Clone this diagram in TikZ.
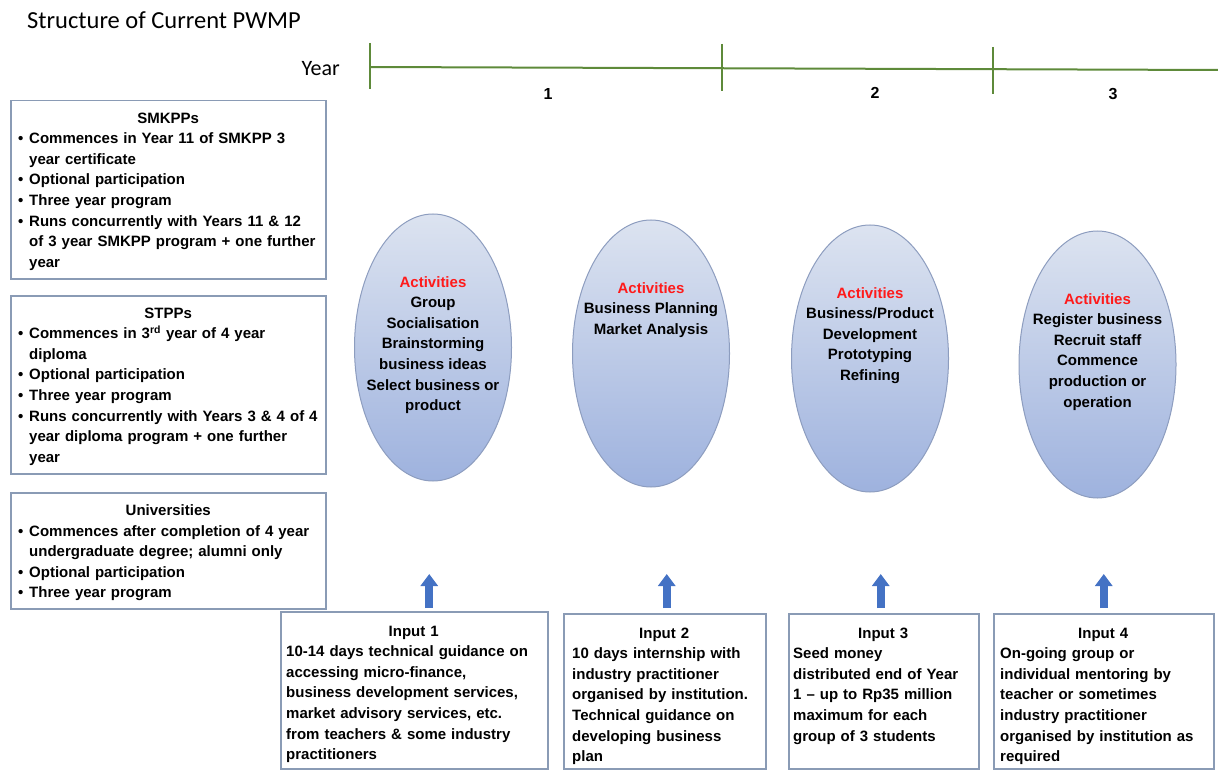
\documentclass[tikz,border=0pt]{standalone}
\usepackage{fontspec}
\setmainfont{Liberation Sans}
\newfontfamily\calibri{Carlito}
\usetikzlibrary{shapes.geometric, arrows.meta, positioning, calc}

\definecolor{boxline}{HTML}{8A9BB5}
\definecolor{timeline}{HTML}{5E8A3A}
\definecolor{ovaltop}{HTML}{DCE3F0}
\definecolor{ovalbot}{HTML}{9EB2DE}
\definecolor{ovalline}{HTML}{8D9DBF}
\definecolor{inarrow}{HTML}{4472C4}
\definecolor{actred}{HTML}{FF1A1A}

\newcommand{\bul}{\makebox[11pt][l]{\textbullet}}
\newcommand{\cnt}{\hspace*{11pt}}

\begin{document}
\begin{tikzpicture}[x=1pt, y=1pt,
        txt/.style={font=\fontsize{15}{20.6}\selectfont\bfseries},
        panel/.style={rectangle, draw=boxline, line width=1.5pt, anchor=north west, inner sep=0pt},
        paneltext/.style={txt, anchor=north west, align=left, inner sep=0pt},
        oval/.style={ellipse, draw=ovalline, line width=1pt, top color=ovaltop, bottom color=ovalbot, minimum width=157pt, minimum height=267pt, inner sep=0pt},
        ovaltext/.style={txt, align=center, anchor=north, inner sep=0pt},
        uparrow/.style={draw=inarrow, line width=8pt, -{Triangle[width=17pt, length=12pt]}},
        yeartick/.style={draw=timeline, line width=1.5pt}]

      \useasboundingbox (0,0) rectangle (1218,-770);

      % 1. Title and year line
      \node[font=\calibri\fontsize{24.5}{28}\selectfont, anchor=west, inner sep=0pt] (title) at (27,-20) {Structure of Current PWMP};
      \node[font=\calibri\fontsize{22}{26}\selectfont, anchor=east, inner sep=0pt] (year) at (340,-69) {Year};

      \coordinate (t0) at (370,-67);
      \coordinate (t1) at (722,-68);
      \coordinate (t2) at (993,-69);
      \coordinate (tend) at (1218,-70);
      \draw[draw=timeline, line width=2pt] (t0) -- (tend);
      \draw[yeartick] ([yshift=24pt]t0) -- ([yshift=-22pt]t0);
      \draw[yeartick] ([yshift=24pt]t1) -- ([yshift=-23pt]t1);
      \draw[yeartick] ([yshift=22pt]t2) -- ([yshift=-25pt]t2);

      \node[txt, font=\fontsize{16}{18}\selectfont\bfseries] (yr1) at (548,-94) {1};
      \node[txt, font=\fontsize{16}{18}\selectfont\bfseries] (yr2) at (875,-93) {2};
      \node[txt, font=\fontsize{16}{18}\selectfont\bfseries] (yr3) at (1113,-94) {3};

      % 2. Institution boxes (left)
      \node[panel, minimum width=315pt, minimum height=178pt] (smk) at (10,-100) {};
      \node[paneltext, text width=300pt] (smktxt) at ([xshift=8pt, yshift=-12.5pt]smk.north west)
        {\makebox[\linewidth]{SMKPPs}\\
         \bul Commences in Year 11 of SMKPP 3\\
         \cnt year certificate\\
         \bul Optional participation\\
         \bul Three year program\\
         \bul Runs concurrently with Years 11 \& 12\\
         \cnt of 3 year SMKPP program + one further\\
         \cnt year};

      \node[panel, minimum width=315pt, minimum height=178pt] (stp) at (10,-295) {};
      \node[paneltext, text width=300pt] (stptxt) at ([xshift=8pt, yshift=-12.5pt]stp.north west)
        {\makebox[\linewidth]{STPPs}\\
         \bul Commences in 3\textsuperscript{rd} year of 4 year\\
         \cnt diploma\\
         \bul Optional participation\\
         \bul Three year program\\
         \bul Runs concurrently with Years 3 \& 4 of 4\\
         \cnt year diploma program + one further\\
         \cnt year};

      \node[panel, minimum width=315pt, minimum height=116pt] (uni) at (10,-492) {};
      \node[paneltext, text width=300pt] (unitxt) at ([xshift=8pt, yshift=-12.5pt]uni.north west)
        {\makebox[\linewidth]{Universities}\\
         \bul Commences after completion of 4 year\\
         \cnt undergraduate degree; alumni only\\
         \bul Optional participation\\
         \bul Three year program};

      % 3. Activities (ovals)
      \node[oval] (act1) at (433,-347.5) {};
      \node[oval] (act2) at (651,-353.5) {};
      \node[oval] (act3) at (870,-358.5) {};
      \node[oval] (act4) at (1097.5,-364.5) {};

      \node[ovaltext] (act1txt) at ([yshift=-62.5pt]act1.north)
        {\textcolor{actred}{Activities}\\Group\\Socialisation\\Brainstorming\\business ideas\\Select business or\\product};
      \node[ovaltext] (act2txt) at ([yshift=-62.5pt]act2.north)
        {\textcolor{actred}{Activities}\\Business Planning\\Market Analysis};
      \node[ovaltext] (act3txt) at ([yshift=-62.5pt]act3.north)
        {\textcolor{actred}{Activities}\\Business/Product\\Development\\Prototyping\\Refining};
      \node[ovaltext] (act4txt) at ([yshift=-62.5pt]act4.north)
        {\textcolor{actred}{Activities}\\Register business\\Recruit staff\\Commence\\production or\\operation};

      % 4. Input boxes (bottom)
      \node[panel, minimum width=267pt, minimum height=157pt] (in1) at (280,-611) {};
      \node[paneltext, text width=255pt] (in1txt) at ([xshift=6pt, yshift=-14.5pt]in1.north west)
        {\makebox[\linewidth]{Input 1}\\
         10-14 days technical guidance on\\
         accessing micro-finance,\\
         business development services,\\
         market advisory services, etc.\\
         from teachers \& some industry\\
         practitioners};

      \node[panel, minimum width=202pt, minimum height=155pt] (in2) at (563,-613) {};
      \node[paneltext, text width=184pt] (in2txt) at ([xshift=9pt, yshift=-14.5pt]in2.north west)
        {\makebox[\linewidth]{Input 2}\\
         10 days internship with\\
         industry practitioner\\
         organised by institution.\\
         Technical guidance on\\
         developing business\\
         plan};

      \node[panel, minimum width=190pt, minimum height=155pt] (in3) at (788,-613) {};
      \node[paneltext, text width=180pt] (in3txt) at ([xshift=5pt, yshift=-14.5pt]in3.north west)
        {\makebox[\linewidth]{Input 3}\\
         Seed money\\
         distributed end of Year\\
         1 -- up to Rp35 million\\
         maximum for each\\
         group of 3 students};

      \node[panel, minimum width=220pt, minimum height=155pt] (in4) at (993,-613) {};
      \node[paneltext, text width=206pt] (in4txt) at ([xshift=7pt, yshift=-14.5pt]in4.north west)
        {\makebox[\linewidth]{Input 4}\\
         On-going group or\\
         individual mentoring by\\
         teacher or sometimes\\
         industry practitioner\\
         organised by institution as\\
         required};

      % 5. Arrows from inputs
      \draw[uparrow] ([xshift=15pt, yshift=3pt]in1.north) -- ++(0,34);
      \draw[uparrow] ([xshift=2pt, yshift=5pt]in2.north) -- ++(0,34);
      \draw[uparrow] ([xshift=-3pt, yshift=5pt]in3.north) -- ++(0,34);
      \draw[uparrow] ([xshift=0pt, yshift=5pt]in4.north) -- ++(0,34);
    \end{tikzpicture}
\end{document}
